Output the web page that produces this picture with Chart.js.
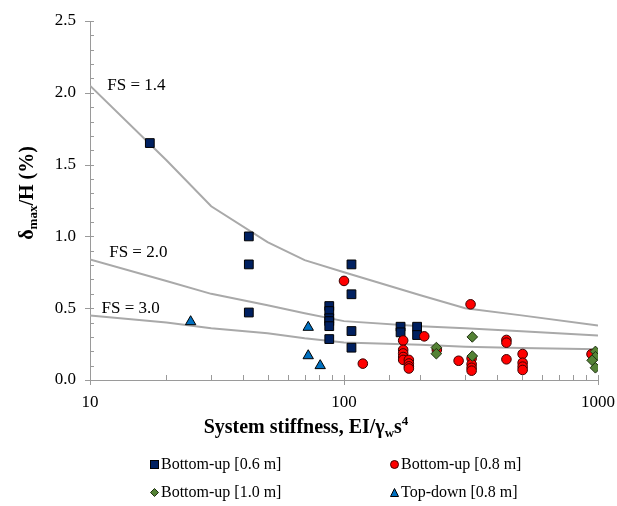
<!DOCTYPE html>
<html>
<head>
<meta charset="utf-8">
<script src="https://cdn.jsdelivr.net/npm/chart.js@4.4.0/dist/chart.umd.min.js"></script>
<style>
  html, body { margin: 0; padding: 0; background: #fff; }
  #wrap { position: relative; width: 617px; height: 506px; }
  .lg { position: absolute; height: 18px; display: flex; align-items: center; white-space: nowrap;
        font: 16px 'Liberation Serif', 'Times New Roman', serif; color: #000; }
  .lg svg { margin-right: 2px; }
</style>
</head>
<body>
<div id="wrap">
  <canvas id="chart" width="617" height="506"></canvas>
  <div class="lg" style="left:150px;top:455px"><svg width="9" height="9"><rect x="0.5" y="0.5" width="8" height="8" fill="#002060" stroke="#000"/></svg>Bottom-up [0.6 m]</div>
  <div class="lg" style="left:390px;top:455px"><svg width="9" height="9"><circle cx="4.5" cy="4.5" r="4" fill="#ff0000" stroke="#400"/></svg>Bottom-up [0.8 m]</div>
  <div class="lg" style="left:150px;top:483px"><svg width="9" height="9"><path d="M4.5 0.5 L8.5 4.5 L4.5 8.5 L0.5 4.5 Z" fill="#548235" stroke="#1e3010"/></svg>Bottom-up [1.0 m]</div>
  <div class="lg" style="left:390px;top:483px"><svg width="9" height="9"><path d="M4.5 0.5 L8.5 8.5 L0.5 8.5 Z" fill="#0070c0" stroke="#000"/></svg>Top-down [0.8 m]</div>
</div>
<script>
// ---- DATA ----
// factor-of-safety design curves
const fsStiff = [10, 20, 30, 50, 70, 100, 200, 300, 500, 1000];
const fs14 = [2.05, 1.53, 1.21, 0.96, 0.835, 0.75, 0.59, 0.50, 0.45, 0.38];
const fs20 = [0.84, 0.69, 0.60, 0.52, 0.465, 0.41, 0.375, 0.36, 0.34, 0.31];
const fs30 = [0.45, 0.40, 0.36, 0.325, 0.29, 0.262, 0.245, 0.232, 0.222, 0.214];
const fsLabels = ['FS = 1.4', 'FS = 2.0', 'FS = 3.0'];
const fsLabelX = [11.7, 11.9, 11.1];
const fsLabelY = [2.05, 0.89, 0.50];

// case histories
const bu06X = [17.2, 42.2, 42.2, 42.2, 87.5, 87.5, 87.5, 87.5, 87.5, 87.5, 107, 107, 107, 107, 167, 167, 194, 194];
const bu06Y = [1.65, 1.00, 0.805, 0.47, 0.515, 0.48, 0.43, 0.41, 0.375, 0.285, 0.805, 0.597, 0.341, 0.225, 0.371, 0.332, 0.371, 0.313];

const bu08X = [100, 118.6, 171, 171, 171, 171, 171, 180, 180, 180, 180, 207, 232, 282.6, 315, 318, 318, 318, 318, 436, 436, 436, 505, 505, 505, 505, 943];
const bu08Y = [0.69, 0.114, 0.275, 0.21, 0.185, 0.16, 0.14, 0.14, 0.115, 0.095, 0.08, 0.304, 0.21, 0.134, 0.527, 0.15, 0.11, 0.085, 0.065, 0.279, 0.26, 0.144, 0.181, 0.12, 0.093, 0.07, 0.18];

const bu10X = [231, 231, 320, 320, 977, 977, 977, 948];
const bu10Y = [0.226, 0.183, 0.30, 0.167, 0.199, 0.162, 0.085, 0.137];

const tdX = [24.9, 72.3, 72.3, 80.6];
const tdY = [0.406, 0.367, 0.169, 0.10];

const xTitle = ['System stiffness, EI/\u03b3', 'w', 's', '4'];
const yTitle = ['\u03b4', 'max', '/H (%)'];

// ---- STYLE ----
const serif = "'Liberation Serif', 'Times New Roman', serif";
const axisGray = '#9a9a9a';
const curveGray = '#a9a9a9';

const pts = (xs, ys) => xs.map((x, i) => ({ x, y: ys[i] }));

function curve(ys) {
  return {
    type: 'scatter', showLine: true, data: pts(fsStiff, ys),
    borderColor: curveGray, borderWidth: 2, pointRadius: 0, tension: 0, order: 10
  };
}

function marks(xs, ys, style, r, fill, stroke, order) {
  return {
    type: 'scatter', data: pts(xs, ys), pointStyle: style, pointRadius: r,
    backgroundColor: fill, borderColor: stroke, borderWidth: 1, order
  };
}

// minor/inside ticks, curve labels and axis titles
const decor = {
  id: 'decor',
  afterDraw(chart) {
    const { ctx, chartArea: a, scales: { x, y } } = chart;
    ctx.save();
    ctx.strokeStyle = axisGray;
    ctx.lineWidth = 1;
    ctx.beginPath();
    y.ticks.forEach(t => {
      const py = Math.round(y.getPixelForValue(t.value)) + 0.5;
      const major = Math.abs(t.value * 2 - Math.round(t.value * 2)) < 1e-6;
      ctx.moveTo(a.left - (major ? 5 : 0), py);
      ctx.lineTo(a.left + 4, py);
    });
    x.ticks.forEach(t => {
      const px = Math.round(x.getPixelForValue(t.value)) + 0.5;
      const l = Math.log10(t.value);
      const major = Math.abs(l - Math.round(l)) < 1e-6;
      ctx.moveTo(px, a.bottom + (major ? 5 : 0));
      ctx.lineTo(px, a.bottom - 5);
    });
    ctx.stroke();

    // FS labels
    ctx.fillStyle = '#000';
    ctx.font = '17px ' + serif;
    ctx.textBaseline = 'middle';
    ctx.textAlign = 'left';
    fsLabels.forEach((s, i) => {
      ctx.fillText(s, x.getPixelForValue(fsLabelX[i]), y.getPixelForValue(fsLabelY[i]));
    });

    // x title with subscript / superscript
    ctx.textBaseline = 'alphabetic';
    const big = 'bold 20px ' + serif, small = 'bold 13px ' + serif;
    const parts = [[xTitle[0], big, 0], [xTitle[1], small, 4], [xTitle[2], big, 0], [xTitle[3], small, -8]];
    let w = 0;
    parts.forEach(p => { ctx.font = p[1]; w += ctx.measureText(p[0]).width; });
    let cx = 306 - w / 2;
    parts.forEach(p => { ctx.font = p[1]; ctx.fillText(p[0], cx, 433 + p[2]); cx += ctx.measureText(p[0]).width; });

    // y title (rotated)
    ctx.translate(33, 193);
    ctx.rotate(-Math.PI / 2);
    const yparts = [[yTitle[0], big, 0], [yTitle[1], small, 4], [yTitle[2], big, 0]];
    w = 0;
    yparts.forEach(p => { ctx.font = p[1]; w += ctx.measureText(p[0]).width; });
    cx = -w / 2;
    yparts.forEach(p => { ctx.font = p[1]; ctx.fillText(p[0], cx, p[2]); cx += ctx.measureText(p[0]).width; });
    ctx.restore();
  }
};

new Chart(document.getElementById('chart'), {
  type: 'scatter',
  data: {
    datasets: [
      curve(fs14), curve(fs20), curve(fs30),
      marks(bu06X, bu06Y, 'rect', 6.2, '#002060', '#000', 4),
      marks(bu08X, bu08Y, 'circle', 4.8, '#ff0000', '#3a0000', 3),
      marks(bu10X, bu10Y, 'rectRot', 5.3, '#548235', '#1e3010', 2),
      marks(tdX, tdY, 'triangle', 6, '#0070c0', '#000', 1)
    ]
  },
  options: {
    responsive: false,
    animation: false,
    layout: { padding: { top: 21, right: 19, left: 0, bottom: 0 } },
    plugins: { legend: { display: false }, tooltip: { enabled: false } },
    scales: {
      x: {
        type: 'logarithmic', min: 10, max: 1000,
        grid: { display: false },
        border: { display: true, color: axisGray, width: 1 },
        afterFit: s => { s.height = 126; s.paddingLeft = 0; s.paddingRight = 0; },
        ticks: {
          autoSkip: false, maxRotation: 0, padding: 4,
          color: '#000', font: { family: serif, size: 17 },
          callback: v => {
            const l = Math.log10(v);
            return Math.abs(l - Math.round(l)) < 1e-6 ? String(v) : '';
          }
        }
      },
      y: {
        min: 0, max: 2.5,
        grid: { display: false },
        border: { display: true, color: axisGray, width: 1 },
        afterFit: s => { s.width = 90; s.paddingTop = 0; s.paddingBottom = 0; },
        ticks: {
          stepSize: 0.1, autoSkip: false, padding: 6,
          color: '#000', font: { family: serif, size: 17 },
          callback: v => Math.abs(v * 2 - Math.round(v * 2)) < 1e-6 ? v.toFixed(1) : ''
        }
      }
    }
  },
  plugins: [decor]
});
</script>
</body>
</html>
